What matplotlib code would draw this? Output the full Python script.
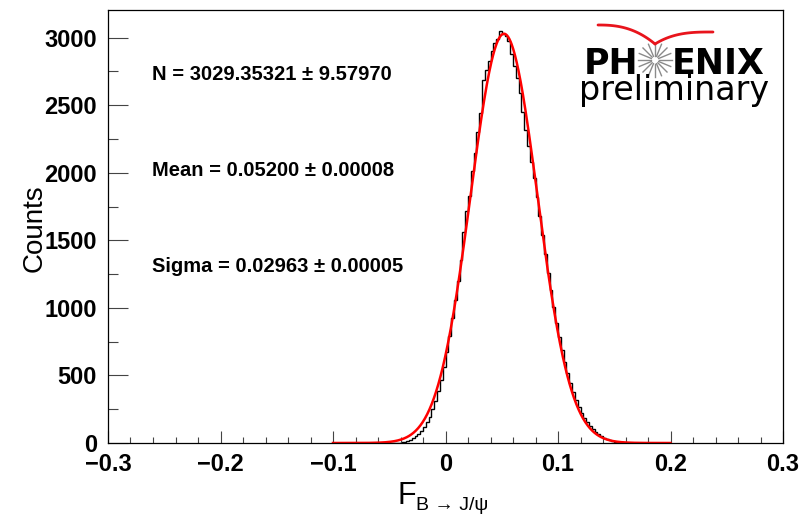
import numpy as np
import matplotlib as mp
mp.use('Agg')
import matplotlib.pyplot as plt
from matplotlib.ticker import MultipleLocator

# histogram of F_B->J/psi (bin width 0.0025 starting at -0.05), counts
bin_lo = -0.05
bin_width = 0.0025
counts = [0, 0, 1, 2, 4, 8, 14, 22, 35, 50,
          68, 92, 118, 152, 196, 248, 310, 384, 470, 566,
          676, 795, 925, 1062, 1200, 1352, 1560, 1720, 1830, 2010,
          2150, 2300, 2440, 2690, 2760, 2830, 2900, 2960, 2990, 3052,
          3030, 3015, 2975, 2880, 2790, 2700, 2590, 2450, 2320, 2200,
          2080, 1960, 1820, 1680, 1540, 1400, 1262, 1130, 1005, 890,
          785, 686, 598, 516, 442, 378, 320, 268, 224, 184,
          152, 124, 100, 80, 63, 49, 38, 29, 22, 16,
          11, 8, 5, 3, 2, 1, 0, 0]

# gaussian fit shown on the plot
fit_N = 3029.35321
fit_mean = 0.05200
fit_sigma = 0.02963
fit_range = (-0.1, 0.2)

fit_labels = ['N = 3029.35321 \u00b1 9.57970',
              'Mean = 0.05200 \u00b1 0.00008',
              'Sigma = 0.02963 \u00b1 0.00005']

W, H = 805, 515
fig = plt.figure(figsize=(W / 100, H / 100), dpi=100)
ax = fig.add_axes([108 / W, 1 - 443 / H, (783 - 108) / W, (443 - 10) / H])

edges = bin_lo + bin_width * np.arange(len(counts) + 1)
ax.stairs(counts, edges, color='black', lw=1.0)

xf = np.linspace(fit_range[0], fit_range[1], 600)
yf = fit_N * np.exp(-0.5 * ((xf - fit_mean) / fit_sigma) ** 2)
ax.plot(xf, yf, color='red', lw=1.8)

ax.set_xlim(-0.3, 0.3)
ax.set_ylim(0, 3205)
ax.xaxis.set_major_locator(MultipleLocator(0.1))
ax.xaxis.set_minor_locator(MultipleLocator(0.02))
ax.yaxis.set_major_locator(MultipleLocator(500))
ax.yaxis.set_minor_locator(MultipleLocator(250))
tcol = '#444444'
ax.tick_params(axis='x', which='major', direction='in', length=8.6, width=0.8, pad=7, color=tcol)
ax.tick_params(axis='x', which='minor', direction='in', length=4.3, width=0.8, color=tcol)
ax.tick_params(axis='y', which='major', direction='in', length=14.4, width=0.8, pad=8, color=tcol)
ax.tick_params(axis='y', which='minor', direction='in', length=7.2, width=0.8, color=tcol)
ax.xaxis.set_major_formatter(plt.FuncFormatter(lambda v, p: '0' if abs(v) < 1e-9 else ('%.1f' % v).replace('-', '\u2212')))
for lab in ax.get_xticklabels() + ax.get_yticklabels():
    lab.set_fontfamily('Liberation Sans')
    lab.set_fontweight('bold')
    lab.set_fontsize(17)
for sp in ax.spines.values():
    sp.set_linewidth(0.9)

# overlay in pixel coordinates for labels, fit text and logo
ov = fig.add_axes([0, 0, 1, 1], zorder=5)
ov.set_xlim(0, W)
ov.set_ylim(H, 0)
ov.axis('off')
ov.patch.set_alpha(0)

ov.text(35, 228, 'Counts', rotation=90, ha='center', va='center',
        fontsize=20, family='Liberation Sans')
ov.text(397, 504, 'F', ha='left', va='baseline', fontsize=22, family='Liberation Sans')
ov.text(416, 510, 'B \u2192 J/\u03c8', ha='left', va='baseline', fontsize=14,
        family=['Liberation Sans', 'DejaVu Sans'])

for lbl, yy in zip(fit_labels, [75, 171, 266]):
    ov.text(152, yy, lbl, ha='left', va='center', fontsize=14.5,
            family='Liberation Sans', fontweight='bold')

# PHENIX preliminary logo
ov.text(584, 74, 'PH', ha='left', va='baseline', fontsize=25,
        family='DejaVu Sans', fontweight='bold')
ov.text(672, 74, 'ENIX', ha='left', va='baseline', fontsize=25,
        family='DejaVu Sans', fontweight='bold')
ov.text(579, 100, 'preliminary', ha='left', va='baseline', fontsize=24,
        family='DejaVu Sans')
cx, cy = 655, 60
for a in np.linspace(0, 2 * np.pi, 17)[:-1]:
    ov.plot([cx + 4 * np.cos(a), cx + 17 * np.cos(a)],
            [cy + 4 * np.sin(a), cy + 17 * np.sin(a)], color='#8a8a8a', lw=1.0)
t = np.linspace(0, 1, 50)
ov.plot(598 + 57 * t, 25 + 19 * t ** 2.5, color='#e8141c', lw=2.0, solid_capstyle='round')
ov.plot(655 + 58 * t, 32 + 12 * (1 - t) ** 3, color='#e8141c', lw=2.0, solid_capstyle='round')

plt.savefig('out.png', dpi=100)
